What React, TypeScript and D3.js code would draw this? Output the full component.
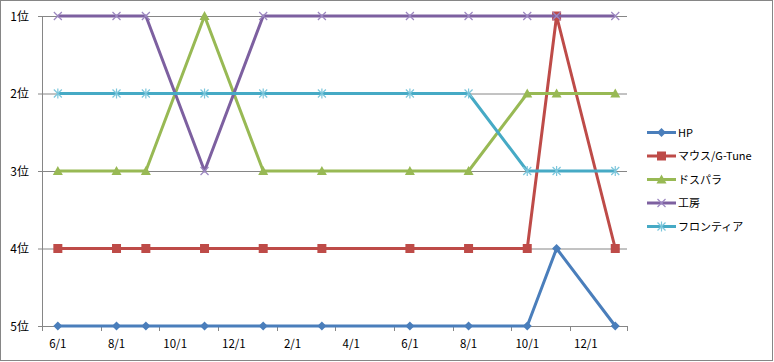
import React from "react";
import * as d3 from "d3";

// Survey dates (first of each month)
const dates = [
  "2010-06-01", "2010-08-01", "2010-09-01", "2010-11-01", "2011-01-01", "2011-03-01",
  "2011-06-01", "2011-08-01", "2011-10-01", "2011-11-01", "2012-01-01",
];

// Ranking per series (1 = top)
const hp = [5, 5, 5, 5, 5, 5, 5, 5, 5, 4, 5];
const mouse = [4, 4, 4, 4, 4, 4, 4, 4, 4, 1, 4];
const dospara = [3, 3, 3, 1, 3, 3, 3, 3, 2, 2, 2];
const koubou = [1, 1, 1, 3, 1, 1, 1, 1, 1, 1, 1];
const frontier = [2, 2, 2, 2, 2, 2, 2, 2, 3, 3, 3];

const seriesNames = ["HP", "マウス/G-Tune", "ドスパラ", "工房", "フロンティア"];
const seriesColors = ["#4A7EBB", "#BE4B48", "#98B954", "#7D60A0", "#46AAC5"];
const markerColors = ["#4A7EBB", "#BE4B48", "#98B954", "#9C87C0", "#7CC6DB"];
const markerTypes = ["diamond", "square", "triangle", "x", "star"];
const rankTicks = [1, 2, 3, 4, 5];

const W = 774;
const H = 362;
const FONT = "'Noto Sans CJK JP', 'Noto Sans', sans-serif";
const PLOT_L = 42;
const PLOT_R = 627;

const parse = d3.timeParse("%Y-%m-%d");
const startDate = parse(dates[0]) as Date;
const endDate = parse(dates[dates.length - 1]) as Date;
const monthIndex = (d: Date) => d3.timeMonth.count(startDate, d);
const totalMonths = monthIndex(endDate);

// Month axis: boundaries sit a little over half a month before each labelled date
const x = d3.scaleLinear().domain([-0.54, totalMonths + 0.4]).range([PLOT_L, PLOT_R]);
const y = d3.scaleLinear().domain([1, 5]).range([16, 326]);

// Labels every second month counted from the first survey date
const labelDates = d3.timeMonth.range(startDate, endDate, 2);
const fmt = d3.timeFormat("%-m/%-d");
const tickPositions = d3.range(-0.54, totalMonths + 1, 2);

function Marker({ type, cx, cy, color }: { type: string; cx: number; cy: number; color: string }) {
  if (type === "diamond") {
    const r = 4.5;
    return <path d={`M${cx},${cy - r}L${cx + r},${cy}L${cx},${cy + r}L${cx - r},${cy}Z`} fill={color} />;
  }
  if (type === "square") {
    const r = 4.5;
    return <rect x={cx - r} y={cy - r} width={r * 2} height={r * 2} fill={color} />;
  }
  if (type === "triangle") {
    const r = 5;
    return <path d={`M${cx},${cy - r}L${cx + r},${cy + r - 1}L${cx - r},${cy + r - 1}Z`} fill={color} />;
  }
  if (type === "x") {
    const r = 4;
    return (
      <path d={`M${cx - r},${cy - r}L${cx + r},${cy + r}M${cx - r},${cy + r}L${cx + r},${cy - r}`} stroke={color} strokeWidth={1.2} fill="none" />
    );
  }
  const r = 4;
  return (
    <path
      d={`M${cx - r},${cy - r}L${cx + r},${cy + r}M${cx - r},${cy + r}L${cx + r},${cy - r}M${cx},${cy - r - 1}L${cx},${cy + r + 1}`}
      stroke={color}
      strokeWidth={1.2}
      fill="none"
    />
  );
}

export default function App() {
  const allSeries = [hp, mouse, dospara, koubou, frontier];
  const pts = dates.map((s) => x(monthIndex(parse(s) as Date)));
  const line = d3
    .line<number>()
    .x((_, i) => pts[i])
    .y((v) => y(v));

  return (
    <div style={{ position: "absolute", left: 0, top: 0 }}>
      <svg width={W} height={H} style={{ display: "block", fontFamily: FONT }}>
        <rect x={0.5} y={0.5} width={772} height={360} fill="#fff" stroke="#868686" />

        {/* gridlines */}
        {rankTicks.slice(0, 4).map((r) => (
          <line key={r} x1={PLOT_L} x2={PLOT_R} y1={y(r) + 0.5} y2={y(r) + 0.5} stroke="#868686" />
        ))}
        {/* axes */}
        <line x1={PLOT_L + 0.5} x2={PLOT_L + 0.5} y1={16} y2={326} stroke="#868686" />
        <line x1={PLOT_L} x2={PLOT_R} y1={326.5} y2={326.5} stroke="#868686" />
        {rankTicks.map((r) => (
          <g key={r}>
            <line x1={38} x2={PLOT_L} y1={y(r) + 0.5} y2={y(r) + 0.5} stroke="#868686" />
            <text x={29} y={y(r) + 4.5} fontSize={12} textAnchor="end" fill="#000">
              {r}位
            </text>
          </g>
        ))}
        {tickPositions.map((t) => {
          const tx = Math.round(Math.min(x(t), PLOT_R)) + 0.5;
          return <line key={t} x1={tx} x2={tx} y1={326} y2={331} stroke="#868686" />;
        })}
        {labelDates.map((d, i) => (
          <text key={i} x={x(monthIndex(d))} y={348} fontSize={11.5} textAnchor="middle" fill="#000">
            {fmt(d)}
          </text>
        ))}

        {/* series: line, then its markers */}
        {allSeries.map((s, i) => (
          <g key={i}>
            <path d={line(s) || ""} fill="none" stroke={seriesColors[i]} strokeWidth={3} strokeLinejoin="round" />
            {s.map((v, j) => (
              <Marker key={j} type={markerTypes[i]} cx={pts[j]} cy={y(v)} color={markerColors[i]} />
            ))}
          </g>
        ))}

        {/* legend */}
        {seriesNames.map((n, i) => {
          const ly = 132.5 + i * 23.5;
          return (
            <g key={n}>
              <line x1={647} x2={676} y1={ly} y2={ly} stroke={seriesColors[i]} strokeWidth={3} />
              <Marker type={markerTypes[i]} cx={661.5} cy={ly} color={markerColors[i]} />
              <text x={678} y={ly + 4} fontSize={11} fill="#000">
                {n}
              </text>
            </g>
          );
        })}
      </svg>
    </div>
  );
}
